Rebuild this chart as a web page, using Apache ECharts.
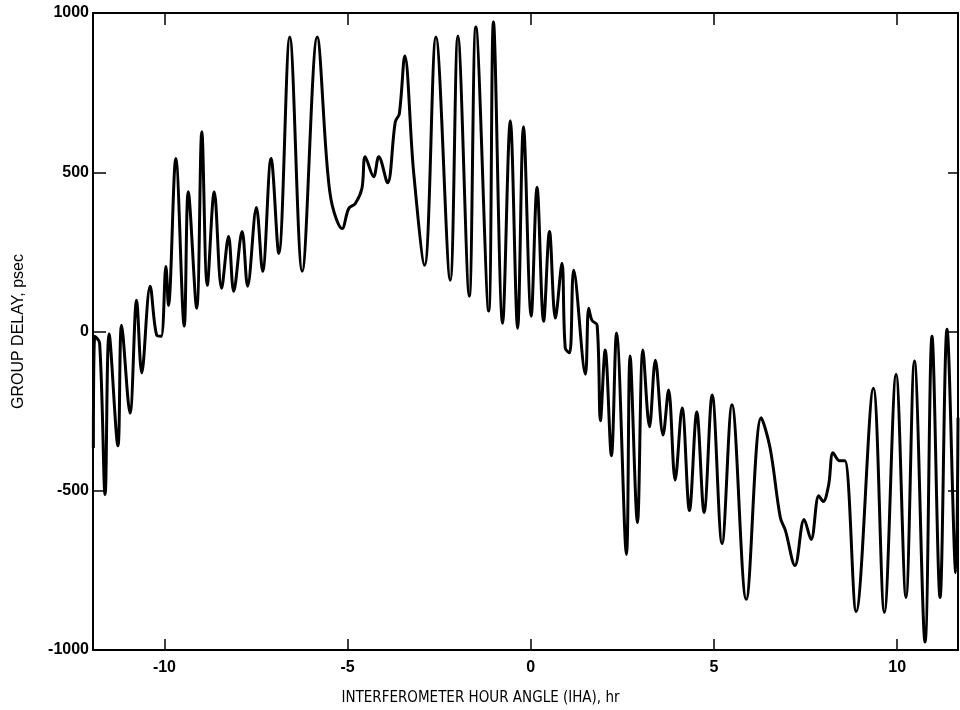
<!DOCTYPE html>
<html>
<head>
<meta charset="utf-8">
<script src="https://cdn.jsdelivr.net/npm/echarts@6/dist/echarts.min.js"></script>
<style>
html,body{margin:0;padding:0;background:#fff;}
#chart{width:960px;height:710px;}
</style>
</head>
<body>
<div id="chart"></div>
<script>
// hour angle (hr) and group delay (psec)
var hourAngle = [-11.94,-11.90,-11.77,-11.62,-11.51,-11.27,-11.17,-10.94,-10.76,-10.62,
	-10.39,-10.21,-10.09,-9.96,-9.89,-9.69,-9.46,-9.35,-9.12,-8.98,
	-8.83,-8.64,-8.44,-8.25,-8.11,-7.88,-7.73,-7.49,-7.32,-7.09,
	-6.88,-6.58,-6.24,-5.83,-5.56,-5.42,-5.15,-4.97,-4.79,-4.61,
	-4.52,-4.29,-4.15,-3.91,-3.70,-3.59,-3.44,-3.20,-2.90,-2.59,
	-2.20,-1.99,-1.68,-1.50,-1.15,-1.02,-0.77,-0.56,-0.36,-0.20,
	0.01,0.17,0.35,0.51,0.67,0.85,0.94,1.06,1.17,1.49,
	1.58,1.67,1.81,1.90,2.03,2.20,2.34,2.61,2.71,2.91,
	3.06,3.24,3.40,3.61,3.76,3.94,4.13,4.33,4.53,4.73,
	4.95,5.22,5.49,5.88,6.29,6.53,6.81,6.95,7.21,7.46,
	7.65,7.86,7.98,8.13,8.25,8.43,8.57,8.88,9.35,9.65,
	9.97,10.24,10.47,10.76,10.95,11.17,11.36,11.60,11.66];
var groupDelay = [-366,-15,-36,-512,-8,-359,20,-256,98,-130,
	142,-12,-15,204,82,543,17,439,73,627,
	145,439,136,298,126,314,142,389,189,543,
	245,925,189,925,521,396,323,386,402,449,
	549,486,549,467,658,683,865,502,208,925,
	161,928,111,956,64,972,26,662,10,643,
	48,453,32,314,42,214,-52,-67,192,-134,
	73,35,20,-280,-58,-390,-5,-700,-77,-600,
	-58,-299,-90,-325,-184,-466,-240,-562,-253,-568,
	-199,-666,-230,-841,-271,-365,-584,-625,-735,-590,
	-653,-516,-534,-481,-381,-406,-406,-879,-178,-882,
	-134,-835,-93,-975,-15,-835,7,-757,-271];
var xTicks = [-10, -5, 0, 5, 10];

var points = [];
for (var i = 0; i < hourAngle.length; i++) {
	points.push([hourAngle[i], groupDelay[i]]);
}

var chart = echarts.init(document.getElementById('chart'));
var font = 'Liberation Sans, Arial, sans-serif';
var narrow = 'Liberation Sans Narrow, DejaVu Sans Condensed, Arial, sans-serif';
var axisLine = {show: true, onZero: false, lineStyle: {color: '#000', width: 2}};
var plain = function(v){ return String(v); };
var option = {
	animation: false,
	backgroundColor: '#fff',
	grid: {left: 93, right: 2, top: 13, bottom: 60, containLabel: false, outerBoundsMode: 'none'},
	xAxis: [
		{
			type: 'value',
			min: -11.95,
			max: 11.66,
			position: 'bottom',
			axisLine: axisLine,
			splitLine: {show: false},
			axisTick: {inside: true, length: 11, customValues: xTicks, lineStyle: {color: '#000', width: 1.5}},
			axisLabel: {customValues: xTicks, formatter: plain, color: '#000', fontFamily: font, fontSize: 16, fontWeight: 'bold', margin: 10},
			name: 'INTERFEROMETER HOUR ANGLE (IHA), hr',
			nameLocation: 'middle',
			nameGap: 41,
			nameTextStyle: {color: '#000', fontFamily: narrow, fontSize: 15, padding: [0, 90, 0, 0]}
		},
		{
			type: 'value',
			min: -11.95,
			max: 11.66,
			position: 'top',
			axisLine: axisLine,
			splitLine: {show: false},
			axisTick: {inside: true, length: 12, customValues: xTicks, lineStyle: {color: '#000', width: 1.5}},
			axisLabel: {show: false}
		}
	],
	yAxis: [
		{
			type: 'value',
			min: -1000,
			max: 1000,
			interval: 500,
			position: 'left',
			axisLine: axisLine,
			splitLine: {show: false},
			axisTick: {inside: true, length: 13, lineStyle: {color: '#000', width: 1.5}},
			axisLabel: {formatter: plain, color: '#000', fontFamily: font, fontSize: 16, fontWeight: 'bold', margin: 4},
			name: 'GROUP DELAY, psec',
			nameLocation: 'middle',
			nameRotate: 90,
			nameGap: 66,
			nameTextStyle: {color: '#000', fontFamily: font, fontSize: 16}
		},
		{
			type: 'value',
			min: -1000,
			max: 1000,
			interval: 500,
			position: 'right',
			axisLine: axisLine,
			splitLine: {show: false},
			axisTick: {inside: true, length: 10, lineStyle: {color: '#000', width: 1.5}},
			axisLabel: {show: false}
		}
	],
	series: [
		{
			type: 'line',
			data: points,
			smooth: 0.35,
			showSymbol: false,
			lineStyle: {color: '#000', width: 3}
		}
	]
};
chart.setOption(option);
</script>
</body>
</html>
